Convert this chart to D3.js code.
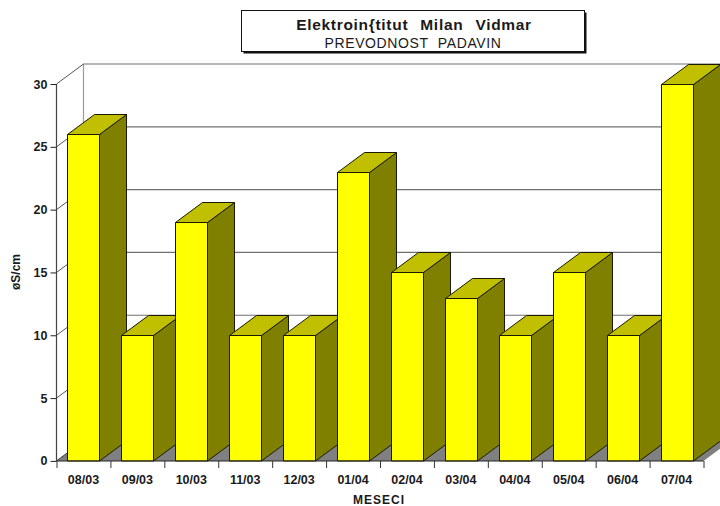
<!DOCTYPE html>
<html><head><meta charset="utf-8">
<script src="https://cdn.jsdelivr.net/npm/d3@7"></script>
<style>html,body{margin:0;padding:0;background:#fff}svg{display:block}text{font-family:"Liberation Sans",Arial,sans-serif;fill:#1a1a1a}</style>
</head><body><div id="c"></div>
<script>
const categories=["08/03","09/03","10/03","11/03","12/03","01/04","02/04","03/04","04/04","05/04","06/04","07/04"];
const values=[26,10,19,10,10,23,15,13,10,15,10,30];
const yTicks=[0,5,10,15,20,25,30];
const titleMain="Elektroin{titut Milan Vidmar";
const titleSub="PREVODNOST PADAVIN";
const xTitle="MESECI";
const yTitle="øS/cm";

const W=720,H=506,dx=27,dy=20,x0=56.5,x1=703.5;
const svg=d3.select("#c").append("svg").attr("width",W).attr("height",H);
const x=d3.scaleBand().domain(categories).range([x0,x1]).paddingInner(0.407).paddingOuter(0.2);
const xStep=d3.scaleLinear().domain([0,categories.length]).range([x0,x1]);
const y=d3.scaleLinear().domain([0,30]).range([460.9,84]);
const line=(g,a,b,c,d,col,w)=>g.append("line").attr("x1",a).attr("y1",b).attr("x2",c).attr("y2",d).attr("stroke",col).attr("stroke-width",w||1);

const bg=svg.append("g");
bg.append("polygon").attr("points",[[x0,461],[x1,461],[x1+dx,461-dy],[x0+dx,461-dy]].join(" ")).attr("fill","#808080");
line(bg,x0+dx,y(30)-dy,x0+dx,461-dy,"#9a9a9a",1.2);
yTicks.forEach(t=>{
  if(t>0) line(bg,x0+dx,y(t)-dy,W,y(t)-dy,"#707070",1.2);
  line(bg,x0,y(t),x0+dx,y(t)-dy,t===0?"#333":"#555",1);
});
const gBars=svg.append("g").attr("stroke","#1a1a00").attr("stroke-width",1).attr("stroke-linejoin","round");
categories.forEach((c,i)=>{
  const l=Math.round(x(c))+.5,r=l+Math.round(x.bandwidth()),t=Math.round(y(values[i]))+.5,b=461;
  gBars.append("polygon").attr("points",[[r,t],[r+dx,t-dy],[r+dx,b-dy],[r,b]].join(" ")).attr("fill","#808000");
  gBars.append("polygon").attr("points",[[l,t],[l+dx,t-dy],[r+dx,t-dy],[r,t]].join(" ")).attr("fill","#c0c000");
  gBars.append("rect").attr("x",l).attr("y",t).attr("width",r-l).attr("height",b-t).attr("fill","#ffff00");
});
const yAxis=d3.axisLeft(y).tickValues(yTicks).tickSize(6).tickPadding(3);
const gy=svg.append("g").attr("transform","translate(56.5,0)").call(yAxis);
gy.select(".domain").attr("stroke","#444").attr("stroke-width",1.2).attr("d","M0,84V461");
gy.selectAll("line").attr("stroke","#222");
gy.selectAll("text").attr("font-size",12.5).attr("font-weight","bold").style("font-family",'"Liberation Sans",Arial,sans-serif').attr("fill","#1a1a1a");
const xAxis=d3.axisBottom(xStep).tickValues(d3.range(0,categories.length+1)).tickSize(7).tickFormat("");
const gx=svg.append("g").attr("transform","translate(0,461)").call(xAxis);
gx.select(".domain").attr("stroke","#222").attr("stroke-width",1.2).attr("d",`M${x0},0H${x1}`);
gx.selectAll("line").attr("stroke","#333");
svg.append("g").selectAll("text").data(categories).join("text")
  .attr("x",(d,i)=>xStep(i+.5)).attr("y",484).attr("text-anchor","middle")
  .attr("font-size",12.5).attr("font-weight","bold").text(d=>d);
svg.append("text").attr("x",379).attr("y",506).attr("dy",-2.5).attr("text-anchor","middle").attr("font-size",12).attr("font-weight","bold").attr("letter-spacing",1).text(xTitle);
svg.append("text").attr("transform","translate(20,272) rotate(-90)").attr("text-anchor","middle").attr("font-size",12).attr("font-weight","bold").text(yTitle);
svg.append("rect").attr("x",243.5).attr("y",12.5).attr("width",343).attr("height",41).attr("fill","#111");
svg.append("rect").attr("x",241.5).attr("y",10.5).attr("width",343).attr("height",41).attr("fill","#fff").attr("stroke","#111").attr("stroke-width",1);
svg.append("text").attr("x",414).attr("y",30).attr("text-anchor","middle").attr("font-size",15.5).attr("font-weight","bold").attr("letter-spacing",.7).attr("word-spacing",7).text(titleMain);
svg.append("text").attr("x",413).attr("y",48).attr("text-anchor","middle").attr("font-size",14).attr("letter-spacing",.6).attr("word-spacing",5).text(titleSub);
</script></body></html>
